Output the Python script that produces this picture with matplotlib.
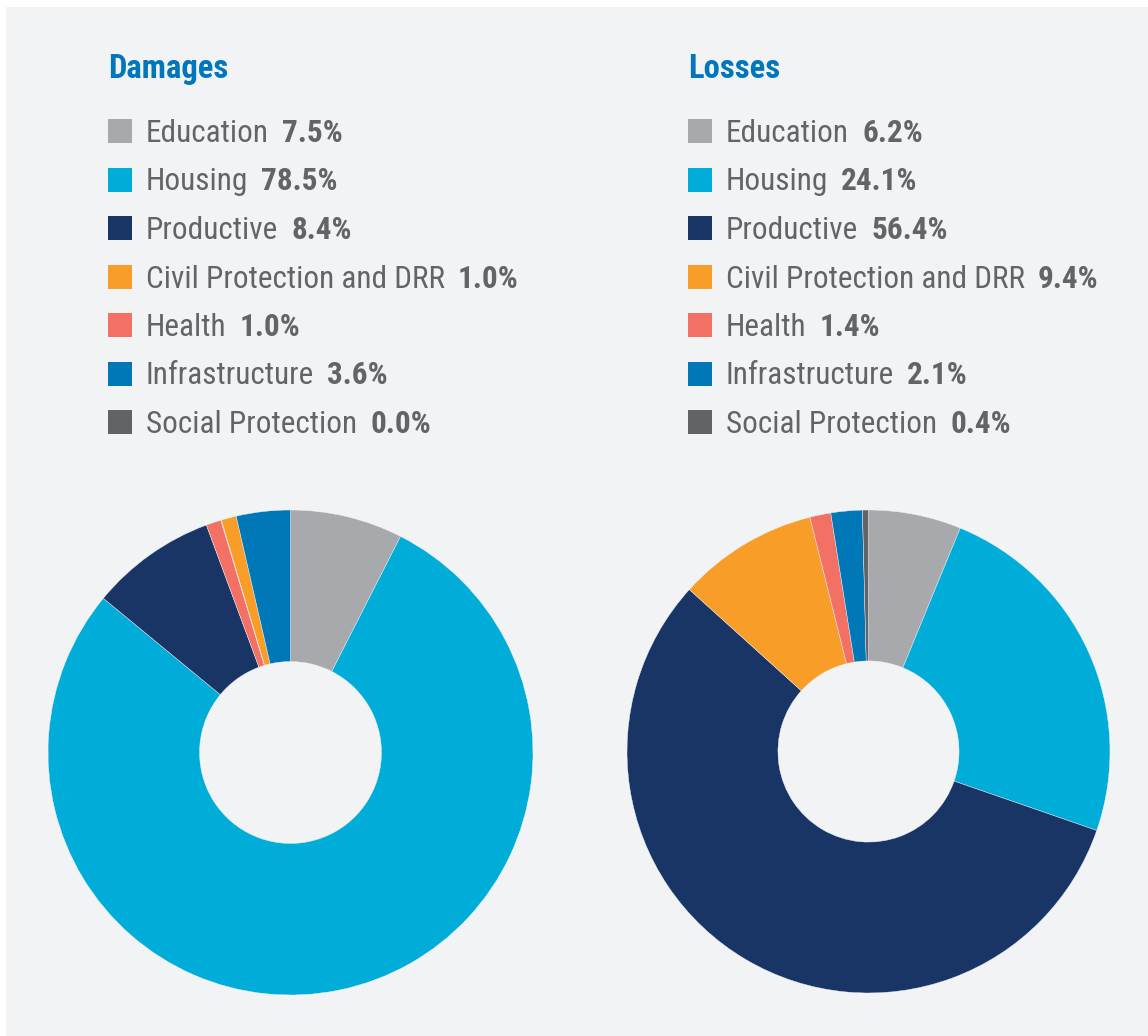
import matplotlib
matplotlib.use("Agg")
import matplotlib.pyplot as plt
from matplotlib.patches import Rectangle
from matplotlib import font_manager

# data
sectors_damages = ["Education", "Housing", "Productive", "Civil Protection and DRR",
                   "Health", "Infrastructure", "Social Protection"]
pct_damages = [7.5, 78.5, 8.4, 1.0, 1.0, 3.6, 0.04]
# order of slices clockwise from 12 o'clock
pie_order_damages = ["Education", "Housing", "Productive", "Health",
                     "Social Protection", "Civil Protection and DRR", "Infrastructure"]

sectors_losses = ["Education", "Housing", "Productive", "Civil Protection and DRR",
                  "Health", "Infrastructure", "Social Protection"]
pct_losses = [6.2, 24.1, 56.4, 9.4, 1.4, 2.1, 0.4]
pie_order_losses = ["Education", "Housing", "Productive", "Civil Protection and DRR",
                    "Health", "Infrastructure", "Social Protection"]

colors = {
    "Education": "#a7a9ac",
    "Housing": "#00acd8",
    "Productive": "#183565",
    "Civil Protection and DRR": "#f89d28",
    "Health": "#f37064",
    "Infrastructure": "#0077b6",
    "Social Protection": "#626366",
}

avail = {f.name for f in font_manager.fontManager.ttflist}
fam = [f for f in ["Liberation Sans Narrow", "Roboto Condensed", "DejaVu Sans Condensed",
                   "Liberation Sans"] if f in avail]
plt.rcParams['font.family'] = fam + ['DejaVu Sans']

W, H = 1148, 1036
fig = plt.figure(figsize=(W / 100, H / 100), dpi=100, facecolor="white")
fig.patches.append(Rectangle((6 / W, 0), 1, 1 - 7 / H, transform=fig.transFigure,
                             facecolor="#f2f3f5", edgecolor="none", zorder=-10))

txt_col = "#636466"
title_col = "#0076bc"
renderer = fig.canvas.get_renderer()


def fx(px):
    return px / W


def fy(py):
    return 1 - py / H


def panel(title, sectors, pct, order, x0, cx, cy, R):
    fig.text(fx(x0), fy(78), title, fontsize=23.5, fontweight="bold", color=title_col,
             va="baseline", ha="left")
    row_y = 131
    for name, val in zip(sectors, pct):
        fig.patches.append(Rectangle((fx(x0), fy(row_y + 12)), 24 / W, 24 / H,
                                     transform=fig.transFigure,
                                     facecolor=colors[name], edgecolor="none"))
        t = fig.text(fx(x0 + 38), fy(row_y + 11), name, fontsize=22.5, color=txt_col,
                     va="baseline", ha="left")
        bb = t.get_window_extent(renderer)
        fig.text(fx(bb.x1 + 13), fy(row_y + 11), "{:.1f}%".format(val), fontsize=22.5,
                 fontweight="bold", color=txt_col, va="baseline", ha="left")
        row_y += 48.5

    ax = fig.add_axes([fx(cx - R), fy(cy + R), 2 * R / W, 2 * R / H])
    lookup = dict(zip(sectors, pct))
    vals = [lookup[n] for n in order]
    ax.pie(vals, colors=[colors[n] for n in order], startangle=90, counterclock=False,
           radius=1, wedgeprops=dict(width=0.625, edgecolor="#f2f3f5", linewidth=0.3))
    ax.set_xlim(-1, 1)
    ax.set_ylim(-1, 1)
    ax.set_aspect("equal")
    ax.axis("off")


panel("Damages", sectors_damages, pct_damages, pie_order_damages, 108, 290.5, 752.5, 242.5)
panel("Losses", sectors_losses, pct_losses, pie_order_losses, 688, 868.5, 751.5, 241.5)

fig.savefig("out.png", dpi=100, facecolor="white")
